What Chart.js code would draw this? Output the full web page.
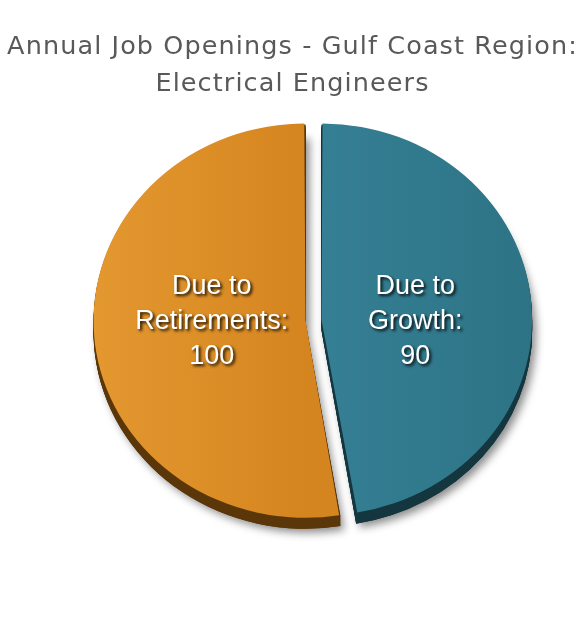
<!DOCTYPE html>
<html><head><meta charset="utf-8">
<script src="https://cdn.jsdelivr.net/npm/chart.js@4.4.0/dist/chart.umd.min.js"></script>
<style>html,body{margin:0;padding:0;background:#fff}#wrap{width:585px;height:620px;position:relative}</style>
</head><body><div id="wrap"><canvas id="c"></canvas></div>
<script>
const titleLines = ['Annual Job Openings - Gulf Coast Region:', 'Electrical Engineers'];
const categories = ['Due to Growth', 'Due to Retirements'];
const labelLines = [['Due to', 'Growth:'], ['Due to', 'Retirements:']];
const values = [90, 100];
const lightColors = ['#357F94', '#E49830'];
const darkColors = ['#2D7385', '#D5851F'];
const sideColors = ['#13363F', '#5A3609'];

const SQUASH = 0.93, DEPTH = 11;

function slicePath(c, el, dy) {
  const off = (el.options.offset || 0) / 4;
  const half = (el.startAngle + el.endAngle) / 2;
  const circ = el.endAngle - el.startAngle;
  const fix = 1 - Math.sin(Math.min(Math.PI, circ));
  const r = el.outerRadius + off * fix;
  const x = el.x + Math.cos(half) * off, y = el.y + Math.sin(half) * off + dy;
  c.beginPath(); c.moveTo(x, y); c.arc(x, y, r, el.startAngle, el.endAngle); c.closePath();
}

const titlePlugin = {
  id: 'titleText',
  afterDraw(chart) {
    const c = chart.ctx;
    c.save();
    c.font = '25.5px "DejaVu Sans"';
    if ('letterSpacing' in c) c.letterSpacing = '1.1px';
    c.fillStyle = '#595959';
    c.textAlign = 'center'; c.textBaseline = 'middle';
    titleLines.forEach((s, k) => c.fillText(s, chart.width / 2, 47 + k * 37));
    c.restore();
  }
};

const pie3d = {
  id: 'pie3d',
  beforeDatasetsDraw(chart) {
    const c = chart.ctx, meta = chart.getDatasetMeta(0);
    const cx = meta.data[0].x, cy = meta.data[0].y;
    c.save();
    c.translate(cx, cy); c.scale(1, SQUASH); c.translate(-cx, -cy);
    meta.data.forEach((el, i) => {
      c.save();
      c.shadowColor = 'rgba(0,0,0,0.45)'; c.shadowBlur = 8; c.shadowOffsetX = 4; c.shadowOffsetY = 4;
      slicePath(c, el, DEPTH / SQUASH); c.fillStyle = sideColors[i]; c.fill();
      c.restore();
    });
    c.save();
    meta.data.forEach((el, i) => {
      c.fillStyle = sideColors[i];
      for (let t = 1; t <= DEPTH; t++) { slicePath(c, el, t / SQUASH); c.fill(); }
    });
    c.restore();
  },
  afterDatasetsDraw(chart) {
    const c = chart.ctx, meta = chart.getDatasetMeta(0);
    c.restore();
    const cy = meta.data[0].y;
    c.save();
    c.font = '27px "Liberation Sans"';
    c.fillStyle = '#ffffff';
    c.textAlign = 'center'; c.textBaseline = 'middle';
    c.shadowColor = 'rgba(0,0,0,0.9)'; c.shadowBlur = 3; c.shadowOffsetX = 2; c.shadowOffsetY = 2;
    meta.data.forEach((el, i) => {
      const half = (el.startAngle + el.endAngle) / 2;
      const rr = el.outerRadius * 0.5;
      const x = el.x + Math.cos(half) * rr;
      const y = cy + 2;
      const lines = [...labelLines[i], String(values[i])];
      lines.forEach((s, k) => c.fillText(s, x, y + (k - 1) * 35));
    });
    c.restore();
  }
};

function sliceFill(ctx) {
  const i = ctx.dataIndex;
  const chart = ctx.chart, a = chart.chartArea;
  if (!a) return lightColors[i];
  const cx = (a.left + a.right) / 2, R = 215;
  const g = chart.ctx.createLinearGradient(cx - R, 0, cx + R, 0);
  if (i === 1) { g.addColorStop(0, lightColors[1]); g.addColorStop(0.5, darkColors[1]); g.addColorStop(1, darkColors[1]); }
  else { g.addColorStop(0, lightColors[0]); g.addColorStop(0.5, lightColors[0]); g.addColorStop(1, darkColors[0]); }
  return g;
}

new Chart(document.getElementById('c'), {
  type: 'pie',
  data: {
    labels: categories,
    datasets: [{
      data: values,
      backgroundColor: sliceFill,
      borderWidth: 0,
      offset: 32,
      clip: false
    }]
  },
  options: {
    responsive: true,
    maintainAspectRatio: false,
    animation: false,
    radius: 204,
    layout: { padding: { top: 112, bottom: 92, left: 42, right: 0 } },
    plugins: { legend: { display: false }, tooltip: { enabled: false }, title: { display: false } }
  },
  plugins: [pie3d, titlePlugin]
});
</script>
</body></html>
